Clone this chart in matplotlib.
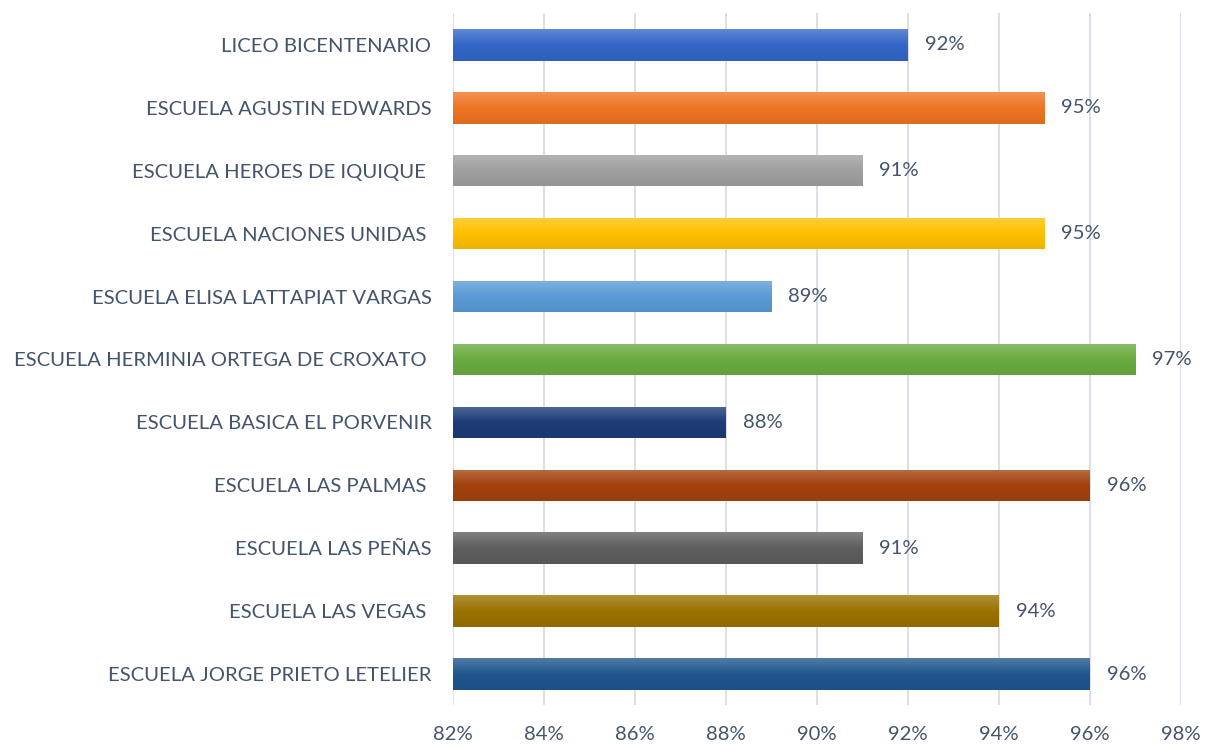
import matplotlib
matplotlib.use("Agg")
import matplotlib.pyplot as plt
import numpy as np
from matplotlib.colors import to_rgb, LinearSegmentedColormap

categories = ["LICEO BICENTENARIO", "ESCUELA AGUSTIN EDWARDS", "ESCUELA HEROES DE IQUIQUE ",
              "ESCUELA NACIONES UNIDAS ", "ESCUELA ELISA LATTAPIAT VARGAS",
              "ESCUELA HERMINIA ORTEGA DE CROXATO ", "ESCUELA BASICA EL PORVENIR",
              "ESCUELA LAS PALMAS ", "ESCUELA LAS PEÑAS", "ESCUELA LAS VEGAS ",
              "ESCUELA JORGE PRIETO LETELIER"]
values = [92, 95, 91, 95, 89, 97, 88, 96, 91, 94, 96]
colors = ["#3366C8", "#EE7422", "#A0A0A0", "#FFC000", "#5B9BD5", "#6AAC40",
          "#1E3C78", "#A3420E", "#5E5E5E", "#9A7200", "#1F568E"]
xticks = [82, 84, 86, 88, 90, 92, 94, 96, 98]

plt.rcParams['font.family'] = ['Lato', 'DejaVu Sans']
textc = "#44546A"
fs = 14.6

fig = plt.figure(figsize=(12.05, 7.46), dpi=100)
ax = fig.add_axes([0.3759, 0.0543, 0.980 - 0.3759, 0.982 - 0.0543])
n = len(categories)
y = np.arange(n)
bars = ax.barh(y, [v - 82 for v in values], left=82, height=0.5, color=colors, zorder=2)

# gradient overlay
grad = np.linspace(0, 1, 64).reshape(-1, 1)
for b, c in zip(bars, colors):
    rgb = np.array(to_rgb(c))
    light = rgb + (1 - rgb) * 0.22
    dark = rgb * 0.93
    cmap = LinearSegmentedColormap.from_list("g", [light, rgb, dark])
    x0, y0 = b.get_x(), b.get_y()
    w, h = b.get_width(), b.get_height()
    im = ax.imshow(grad, cmap=cmap, aspect='auto', extent=[x0, x0 + w, y0 + h, y0],
                   origin='upper', zorder=3)
    im.set_clip_path(b)

for yi, v in zip(y, values):
    ax.text(v + 0.37, yi, f"{v}%", va='center', ha='left', fontsize=fs, color=textc, zorder=4)

ax.set_xlim(82, 98)
ax.set_ylim(n - 0.5, -0.5)
ax.set_yticks(y)
ax.set_yticklabels(categories, fontsize=fs, color=textc)
ax.set_xticks(xticks)
ax.set_xticklabels([f"{t}%" for t in xticks], fontsize=fs, color=textc)
ax.grid(axis='x', color='#D9DCE3', linewidth=1.3, zorder=0)
for s in ax.spines.values():
    s.set_visible(False)
ax.tick_params(axis='both', length=0)
ax.tick_params(axis='y', pad=15.5)
ax.tick_params(axis='x', pad=15)
fig.savefig("out.png", dpi=100)
